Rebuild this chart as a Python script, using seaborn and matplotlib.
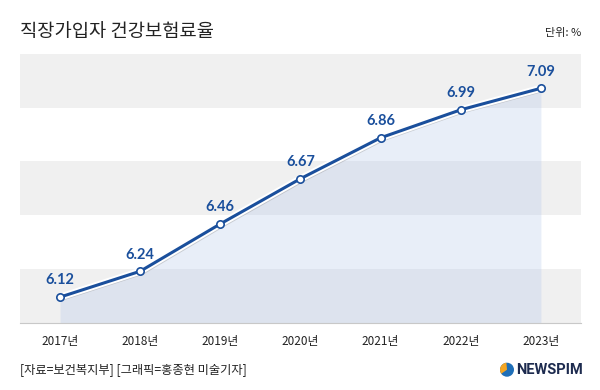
import matplotlib
matplotlib.use("Agg")
import matplotlib.pyplot as plt
import matplotlib.patheffects as pe
import seaborn as sns
import pandas as pd

# 데이터
years = [2017, 2018, 2019, 2020, 2021, 2022, 2023]
rates = [6.12, 6.24, 6.46, 6.67, 6.86, 6.99, 7.09]
year_labels = [f"{y}년" for y in years]
df = pd.DataFrame({"year": years, "rate": rates})

sns.set_theme(style="white")
plt.rcParams['font.family'] = ['Noto Sans CJK KR', 'DejaVu Sans']

BLUE = '#1a4f9c'

fig = plt.figure(figsize=(6, 3.9), dpi=100, facecolor='white')
ax = fig.add_axes([0.0333, 0.172, 0.935, 0.69])

ymin, ymax = 6.0, 7.25
# 배경 밴드
for i, lo in enumerate([6.0, 6.25, 6.5, 6.75, 7.0]):
    if i % 2 == 0:
        ax.axhspan(lo, lo + 0.25, color='#f0f0f0', zorder=0, lw=0)

# 영역 채우기
ax.fill_between(df['year'], df['rate'], ymin, color='#b3c8ea', alpha=0.3, lw=0, zorder=1)

sns.lineplot(data=df, x='year', y='rate', ax=ax, color=BLUE, lw=2.2, zorder=3,
             path_effects=[pe.SimpleLineShadow(offset=(1.5, -1.5), shadow_color='#888888', alpha=0.35),
                           pe.Stroke(linewidth=5, foreground='white'), pe.Normal()])
ax.scatter(df['year'], df['rate'], s=28, facecolor='white', edgecolor=BLUE, linewidth=1.2, zorder=4)

for x, v in zip(years, rates):
    ax.text(x, v + 0.045, f"{v:.2f}", ha='center', va='bottom', color=BLUE,
            fontsize=10.5, fontweight='bold', family=['Lato', 'DejaVu Sans'], zorder=5)

ax.set_xlim(2016.5, 2023.5)
ax.set_ylim(ymin, ymax)
ax.set_xticks(years)
ax.set_xticklabels(year_labels, fontsize=8.5, color='#222222')
ax.tick_params(axis='x', length=5, color='#cccccc', width=0.8, direction='in', pad=9)
ax.set_yticks([])
ax.set_xlabel('')
ax.set_ylabel('')
for s in ['top', 'left', 'right']:
    ax.spines[s].set_visible(False)
ax.spines['bottom'].set_color('#c8c8c8')
ax.spines['bottom'].set_linewidth(0.8)

fig.text(0.0333, 0.92, "직장가입자 건강보험료율", fontsize=13.5, color='#222222', va='center', ha='left')
fig.text(0.968, 0.915, "단위: %", fontsize=8, color='#222222', va='center', ha='right')
fig.text(0.0333, 0.052, "[자료=보건복지부] [그래픽=홍종현 미술기자]", fontsize=8.8, color='#222222', va='center', ha='left')
fig.text(0.972, 0.052, "NEWSPIM", fontsize=10.5, fontweight='bold', color='#1d2b4f', va='center', ha='right',
         family=['Roboto', 'DejaVu Sans'])
cx, cy = 0.845 * 600, 0.052 * 390
fig.patches.append(matplotlib.patches.Circle((cx, cy), 7, transform=None,
                                             facecolor='#1f6fb8', edgecolor='none'))
fig.patches.append(matplotlib.patches.Wedge((cx, cy), 7, 95, 215,
                                            transform=None, facecolor='#f5a623', edgecolor='none'))

fig.savefig('out.png', dpi=100, facecolor='white')
